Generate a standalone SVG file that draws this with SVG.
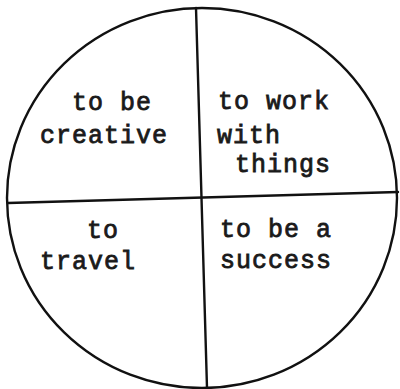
<svg xmlns="http://www.w3.org/2000/svg" width="400" height="389" viewBox="0 0 400 389">
<style>
.ln{fill:none;stroke:#111;stroke-width:2.4;stroke-linecap:round}
.t{font-family:"Liberation Mono","Courier New",monospace;font-size:25px;letter-spacing:1px;fill:#1a1a1a;stroke:#1a1a1a;stroke-width:0.8}
</style>
<rect width="400" height="389" fill="#fff"/>
<g id="connectors">
<ellipse class="ln" cx="202" cy="198" rx="195" ry="190"/>
<line class="ln" x1="196" y1="8" x2="207" y2="388"/>
<line class="ln" x1="8" y1="203" x2="398" y2="192"/>
</g>
<g id="q1"><text class="t" x="72" y="110">to be</text><text class="t" x="40" y="143">creative</text></g>
<g id="q2"><text class="t" x="218" y="109">to work</text><text class="t" x="217" y="143">with</text><text class="t" x="235" y="172">things</text></g>
<g id="q3"><text class="t" x="87" y="238">to</text><text class="t" x="40" y="269">travel</text></g>
<g id="q4"><text class="t" x="220" y="237">to be a</text><text class="t" x="220" y="268">success</text></g>
</svg>
